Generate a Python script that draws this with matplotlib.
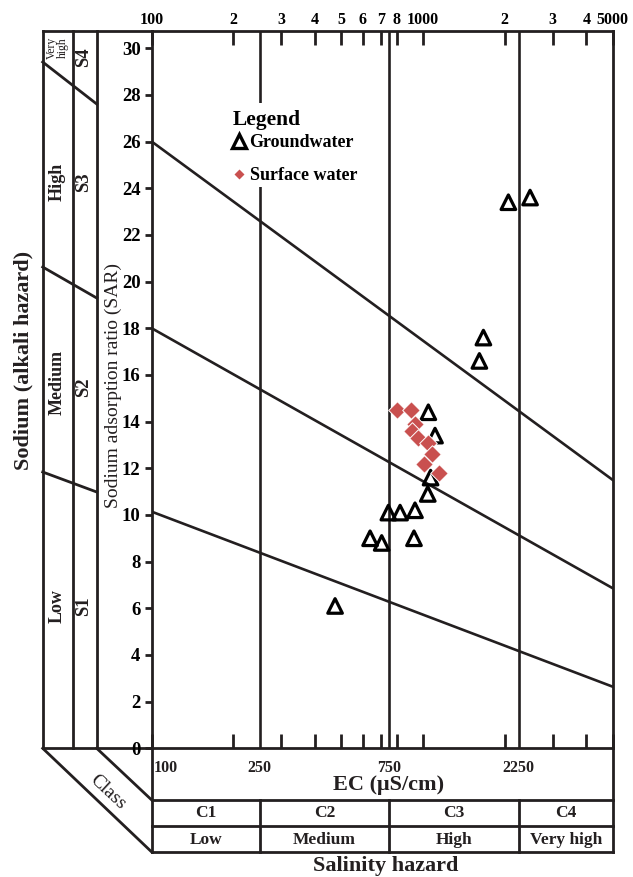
import numpy as np
import matplotlib.pyplot as plt
from matplotlib.lines import Line2D
from matplotlib.patches import Rectangle
from matplotlib.ticker import NullLocator
from matplotlib.transforms import blended_transform_factory

plt.rcParams['font.family'] = ['Liberation Serif', 'DejaVu Serif']
plt.rcParams['font.weight'] = 'bold'

# groundwater samples: EC (uS/cm) and SAR
gw_ec = [474, 638, 704, 745, 823, 934, 926, 1041, 1066, 1046, 1107, 1613, 1669, 2063, 2480]
gw_sar = [6.1, 9.0, 8.8, 10.1, 10.1, 10.2, 9.0, 10.9, 11.6, 14.4, 13.4, 16.6, 17.6, 23.4, 23.6]

# surface water samples
sw_ec = [802, 903, 934, 911, 958, 1043, 1080, 1009, 1146]
sw_sar = [14.5, 14.5, 13.9, 13.6, 13.3, 13.1, 12.6, 12.2, 11.8]

# salinity class limits and sodium class lines (SAR at EC=100 and EC=5000)
c_limits = [250, 750, 2250]
s_line_ec = [100, 5000]
s_line_sar = [[26.0, 11.5], [18.0, 6.86], [10.14, 2.64]]

top_ticks = [100, 200, 300, 400, 500, 600, 700, 800, 1000, 2000, 3000, 4000, 5000]
top_labels = ['100', '2', '3', '4', '5', '6', '7', '8', '1000', '2', '3', '4', '5000']
ec_labels = ['100', '250', '750', '2250']
c_names = ['C1', 'C2', 'C3', 'C4']
c_hazard = ['Low', 'Medium', 'High', 'Very high']

ink = '#231f20'
red = '#c9504f'
W, H = 633, 877

fig = plt.figure(figsize=(6.33, 8.77), dpi=100)

# overlay in pixel units for the frame around the chart
ov = fig.add_axes([0, 0, 1, 1])
ov.set_xlim(0, W)
ov.set_ylim(H, 0)
ov.axis('off')

x0, x1, y0, y1 = 151.7, 612.7, 30.7, 748.3
ax = fig.add_axes([x0 / W, 1 - y1 / H, (x1 - x0) / W, (y1 - y0) / H])
ax.patch.set_visible(False)
ax.set_xscale('log')
ax.set_xlim(100, 5000)
ax.set_ylim(0, 30.75)

for c in c_limits:
    ax.axvline(c, color=ink, lw=1.9, zorder=1)
for s in s_line_sar:
    ax.plot(s_line_ec, s, color=ink, lw=1.9, zorder=1)

ax.scatter(gw_ec, gw_sar, marker='^', s=110, facecolors='none',
           edgecolors='black', linewidths=2.3, zorder=3)
ax.scatter(sw_ec, sw_sar, marker='D', s=80, facecolors=red,
           edgecolors='white', linewidths=0.7, zorder=4)

ax.xaxis.set_minor_locator(NullLocator())
ax.set_xticks(top_ticks, top_labels)
ax.xaxis.set_ticks_position('both')
ax.tick_params(axis='x', which='both', direction='in', length=10, width=2,
               color=ink, labeltop=True, labelbottom=False, labelsize=11.5, pad=2)
ax.set_yticks(range(0, 31, 2))
ax.tick_params(axis='y', direction='out', length=5, width=2, color=ink,
               labelsize=13.5, pad=3)
for sp in ax.spines.values():
    sp.set_linewidth(2)
    sp.set_color(ink)

# legend on a white patch that hides the 250 line behind it
ax.add_patch(Rectangle((0.161, 0.782), 0.31, 0.117, transform=ax.transAxes,
                       facecolor='white', edgecolor='none', zorder=2))
ax.text(0.175, 0.8756, 'Legend', transform=ax.transAxes, fontsize=15.5,
        fontweight='bold', ha='left', va='center', color='black', zorder=6)
gw_h = Line2D([], [], marker='^', ls='none', mfc='none', mec='black', mew=2.4, ms=9.5)
sw_h = Line2D([], [], marker='D', ls='none', mfc=red, mec='none', ms=5)
ax.legend([gw_h, sw_h], ['Groundwater', 'Surface water'],
          loc='center left', bbox_to_anchor=(0.175, 0.821), frameon=False,
          handlelength=0.7, handletextpad=0.25, labelspacing=0.87,
          borderpad=0, borderaxespad=0, prop={'size': 13, 'weight': 'bold'})

# left panel: sodium hazard classes
lk = dict(color=ink, lw=2, solid_capstyle='projecting')
ov.plot([42.7, x0], [y0, y0], **lk)
ov.plot([42.7, x0], [y1, y1], **lk)
for xv in [42.7, 72.7, 96.7]:
    ov.plot([xv, xv], [y0, y1], **lk)
for ya, yb in [(62, 104), (267, 298), (472, 492)]:
    ov.plot([42.7, 96.7], [ya, yb], **lk)

tk = dict(rotation=90, ha='center', va='center', color=ink)
ov.text(57, 382, 'Medium', fontsize=13, **tk)
ov.text(57, 182, 'High', fontsize=13, **tk)
ov.text(57, 606, 'Low', fontsize=13, **tk)
ov.text(57, 48, 'Very\nhigh', fontsize=8.5, weight='normal', linespacing=0.9, **tk)
ov.text(84, 57, 'S4', fontsize=13.5, **tk)
ov.text(84, 182, 'S3', fontsize=13.5, **tk)
ov.text(84, 387, 'S2', fontsize=13.5, **tk)
ov.text(84, 606, 'S1', fontsize=13.5, **tk)
ov.text(23, 360, 'Sodium (alkali hazard)', fontsize=16, **tk)
ov.text(113, 386, 'Sodium adsorption ratio (SAR)', fontsize=14, weight='normal', **tk)

# bottom panel: salinity hazard classes
ov.plot([42.7, x0], [y1, 852], **lk)
ov.plot([96.7, x0], [y1, 800], **lk)
ov.text(108, 792, 'Class', fontsize=14, weight='normal', rotation=-43,
        ha='center', va='center', color=ink)
for xv in [x0, x1]:
    ov.plot([xv, xv], [y1, 852], **lk)
for yv in [800, 826, 852]:
    ov.plot([x0, x1], [yv, yv], **lk)

bt = blended_transform_factory(ax.transData, ov.transData)
for c in c_limits:
    ov.plot([c, c], [800, 852], transform=bt, **lk)
ov.text(101.5, 768, ec_labels[0], transform=bt, fontsize=11.5, ha='left', va='center', color=ink)
for c, lab in zip(c_limits, ec_labels[1:]):
    ov.text(c, 768, lab, transform=bt, fontsize=11.5, ha='center', va='center', color=ink)
ov.text(389, 785, 'EC (μS/cm)', fontsize=16, ha='center', va='center', color=ink)

edges = [100] + c_limits + [5000]
for i in range(4):
    xm = np.sqrt(edges[i] * edges[i + 1])
    ov.text(xm, 813, c_names[i], transform=bt, fontsize=12.5, ha='center',
            va='center', color=ink)
    ov.text(xm, 839.5, c_hazard[i], transform=bt, fontsize=12.5, ha='center',
            va='center', color=ink)
ov.text(386, 866, 'Salinity hazard', fontsize=16, ha='center', va='center', color=ink)

fig.savefig('out.png', dpi=100)
